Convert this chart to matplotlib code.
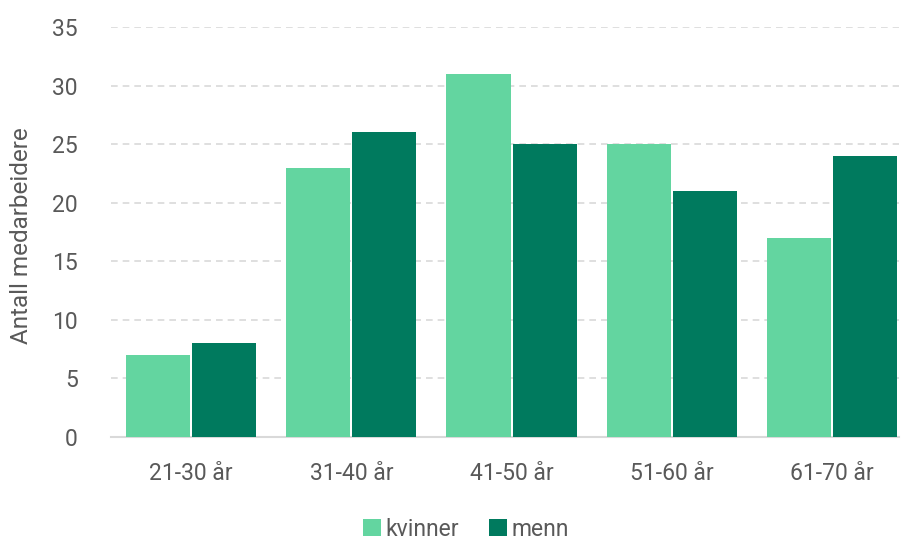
import matplotlib
matplotlib.use("Agg")
import matplotlib.pyplot as plt
import numpy as np

categories = ["21-30 år", "31-40 år", "41-50 år", "51-60 år", "61-70 år"]
kvinner = [7, 23, 31, 25, 17]
menn = [8, 26, 25, 21, 24]
yticks = [0, 5, 10, 15, 20, 25, 30, 35]

plt.rcParams['font.family'] = ['Roboto', 'DejaVu Sans']
fig = plt.figure(figsize=(9.02, 5.39), dpi=100)
W, H = 902, 539
ax = fig.add_axes([111 / W, 1 - 437 / H, 788 / W, (437 - 27) / H])

x = np.arange(len(categories))
bw = 0.40
gap = 0.0125
c1 = "#63D5A0"
c2 = "#007A5E"
ax.bar(x - bw / 2 - gap / 2, kvinner, bw, color=c1, label="kvinner", zorder=3)
ax.bar(x + bw / 2 + gap / 2, menn, bw, color=c2, label="menn", zorder=3)

ax.set_xlim(-0.5, 4.418)
ax.set_ylim(0, 35)
ax.set_yticks(yticks)
ax.set_xticks(x)
ax.set_xticklabels(categories)
txtc = "#595959"
fs = 16.5
ax.tick_params(axis='both', length=0, labelsize=fs, colors=txtc)
ax.tick_params(axis='y', pad=24)
ax.tick_params(axis='x', pad=18)
ax.grid(axis='y', color="#D9D9D9", linestyle=(0, (4, 3)), linewidth=1.2, zorder=0)
for s in ["top", "right", "left"]:
    ax.spines[s].set_visible(False)
ax.spines["bottom"].set_color("#D9D9D9")
ax.spines["bottom"].set_linewidth(1.5)
ax.set_ylabel("Antall medarbeidere", fontsize=17.5, color=txtc, va="center")
ax.yaxis.set_label_coords(-89 / 788, 0.49)

leg = fig.legend(loc="center", bbox_to_anchor=(466 / W, 1 - 529 / H), ncol=2, frameon=False,
                 fontsize=fs, handlelength=0.8, handleheight=0.8, handletextpad=0.2,
                 columnspacing=1.3, labelcolor=txtc)

fig.savefig("out.png", dpi=100)
